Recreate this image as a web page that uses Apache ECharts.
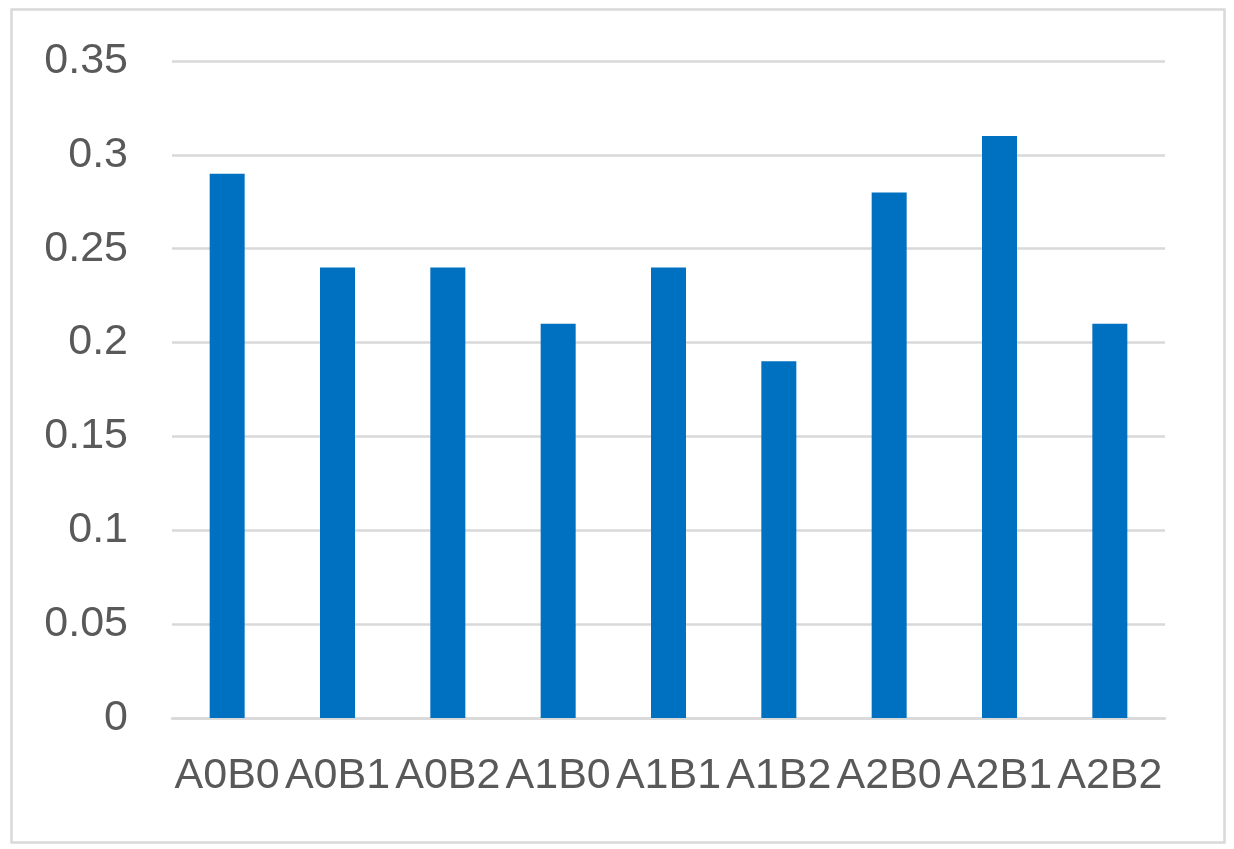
<!DOCTYPE html>
<html><head><meta charset="utf-8">
<style>html,body{margin:0;padding:0;background:#fff}#c{width:1234px;height:849px}</style>
<script src="https://cdn.jsdelivr.net/npm/echarts@6/dist/echarts.min.js"></script>
</head><body><div id="c"></div>
<script>
var categories = ['A0B0','A0B1','A0B2','A1B0','A1B1','A1B2','A2B0','A2B1','A2B2'];
var values = [0.29, 0.24, 0.24, 0.21, 0.24, 0.19, 0.28, 0.31, 0.21];
var yTicks = {min: 0, max: 0.35, interval: 0.05};

var chart = echarts.init(document.getElementById('c'), null, {renderer: 'canvas'});
chart.setOption({
  animation: false,
  backgroundColor: '#fff',
  graphic: [{
    type: 'rect', left: 9, top: 7,
    shape: {width: 1213, height: 833},
    style: {fill: 'none', stroke: '#d9d9d9', lineWidth: 2.5}
  }],
  grid: {left: 172, right: 69, top: 61, bottom: 131, containLabel: false},
  xAxis: {
    type: 'category', data: categories,
    axisLine: {show: true, lineStyle: {color: '#d9d9d9', width: 2.5}},
    axisTick: {show: false},
    axisLabel: {color: '#595959', fontSize: 43, fontFamily: 'Liberation Sans, Arial, sans-serif', margin: 37, interval: 0}
  },
  yAxis: {
    type: 'value', min: yTicks.min, max: yTicks.max, interval: yTicks.interval,
    axisLine: {show: false}, axisTick: {show: false},
    splitLine: {lineStyle: {color: '#d9d9d9', width: 2.5}},
    axisLabel: {color: '#595959', fontSize: 43, fontFamily: 'Liberation Sans, Arial, sans-serif', margin: 44,
      formatter: function(v){ return String(Math.round(v*100)/100); }}
  },
  series: [{
    type: 'bar', data: values, barWidth: 35,
    itemStyle: {color: '#0070C0'}
  }]
});
</script></body></html>
